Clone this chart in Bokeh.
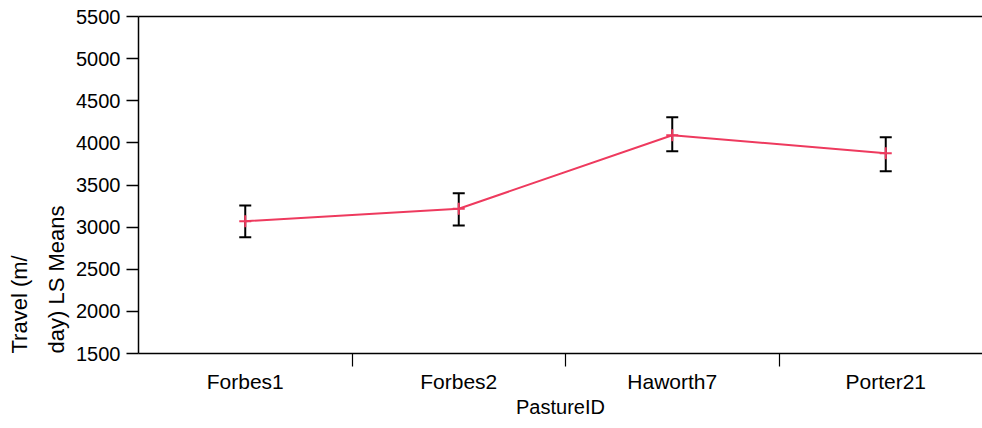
from bokeh.plotting import figure
from bokeh.models import (Range1d, FixedTicker, LinearAxis, ColumnDataSource,
                          Whisker, TeeHead, Title)
from bokeh.embed import file_html
from bokeh.resources import INLINE

# ---- data ----
categories = ["Forbes1", "Forbes2", "Haworth7", "Porter21"]
means = [3070, 3218, 4091, 3877]
upper = [3257, 3403, 4305, 4067]
lower = [2880, 3019, 3901, 3664]
y_ticks = [1500, 2000, 2500, 3000, 3500, 4000, 4500, 5000, 5500]
x_title = "PastureID"
y_title_lines = ["Travel (m/", "day) LS Means"]

FONT = "Liberation Sans"
RED = "#EE3A5E"

xs = [i + 0.5 for i in range(len(categories))]
src = ColumnDataSource(dict(x=xs, mean=means, upper=upper, lower=lower))

p = figure(width=982, height=428,
           x_range=Range1d(0, 844 / 213.5), y_range=Range1d(1500, 5500),
           x_axis_type=None, y_axis_type=None,
           output_backend="svg", toolbar_location=None,
           min_border_left=138, min_border_right=0,
           min_border_top=16, min_border_bottom=75)
p.outline_line_color = None
p.background_fill_color = "white"
p.border_fill_color = "white"

# y axis
yax = LinearAxis(ticker=FixedTicker(ticks=y_ticks))
yax.major_tick_out = 12
yax.major_tick_in = 0
yax.minor_tick_out = 0
yax.minor_tick_in = 0
yax.major_label_standoff = 6
yax.major_label_text_font = FONT
yax.major_label_text_font_size = "20px"
yax.major_label_text_color = "black"
yax.axis_line_width = 1.5
yax.major_tick_line_width = 1.5
p.add_layout(yax, "left")

# y title as two stacked left titles (closest to the axis first)
for txt, so in [(y_title_lines[1], 10), (y_title_lines[0], 9)]:
    p.add_layout(Title(text=txt, align="left", standoff=so,
                       text_font=FONT, text_font_size="22px",
                       text_font_style="normal", text_color="black"), "left")

# x axis
xax = LinearAxis(ticker=FixedTicker(ticks=xs, minor_ticks=[1, 2, 3]))
xax.major_label_overrides = {x: c for x, c in zip(xs, categories)}
xax.major_tick_out = 0
xax.major_tick_in = 0
xax.minor_tick_out = 13
xax.minor_tick_in = 0
xax.minor_tick_line_color = "black"
xax.minor_tick_line_width = 1.2
xax.major_label_standoff = 3
xax.major_label_text_font = FONT
xax.major_label_text_font_size = "21px"
xax.major_label_text_color = "black"
xax.axis_label = x_title
xax.axis_label_text_font = FONT
xax.axis_label_text_font_size = "20px"
xax.axis_label_text_font_style = "normal"
xax.axis_label_text_color = "black"
xax.axis_label_standoff = 0
xax.axis_line_width = 1.5
p.add_layout(xax, "below")

# top frame line
tax = LinearAxis(ticker=FixedTicker(ticks=[]))
tax.major_tick_out = 0
tax.major_tick_in = 0
tax.minor_tick_out = 0
tax.minor_tick_in = 0
tax.major_label_text_font_size = "0px"
tax.axis_line_width = 1.5
p.add_layout(tax, "above")

# error bars
wh = Whisker(source=src, base="x", upper="upper", lower="lower",
             line_color="black", line_width=2,
             upper_head=TeeHead(size=12, line_width=2, line_color="black"),
             lower_head=TeeHead(size=12, line_width=2, line_color="black"))
p.add_layout(wh)

p.line("x", "mean", source=src, line_color=RED, line_width=2)
p.scatter("x", "mean", source=src, marker="cross", size=12,
          line_color=RED, line_width=2)

open("out.html", "w").write(file_html(p, INLINE))
